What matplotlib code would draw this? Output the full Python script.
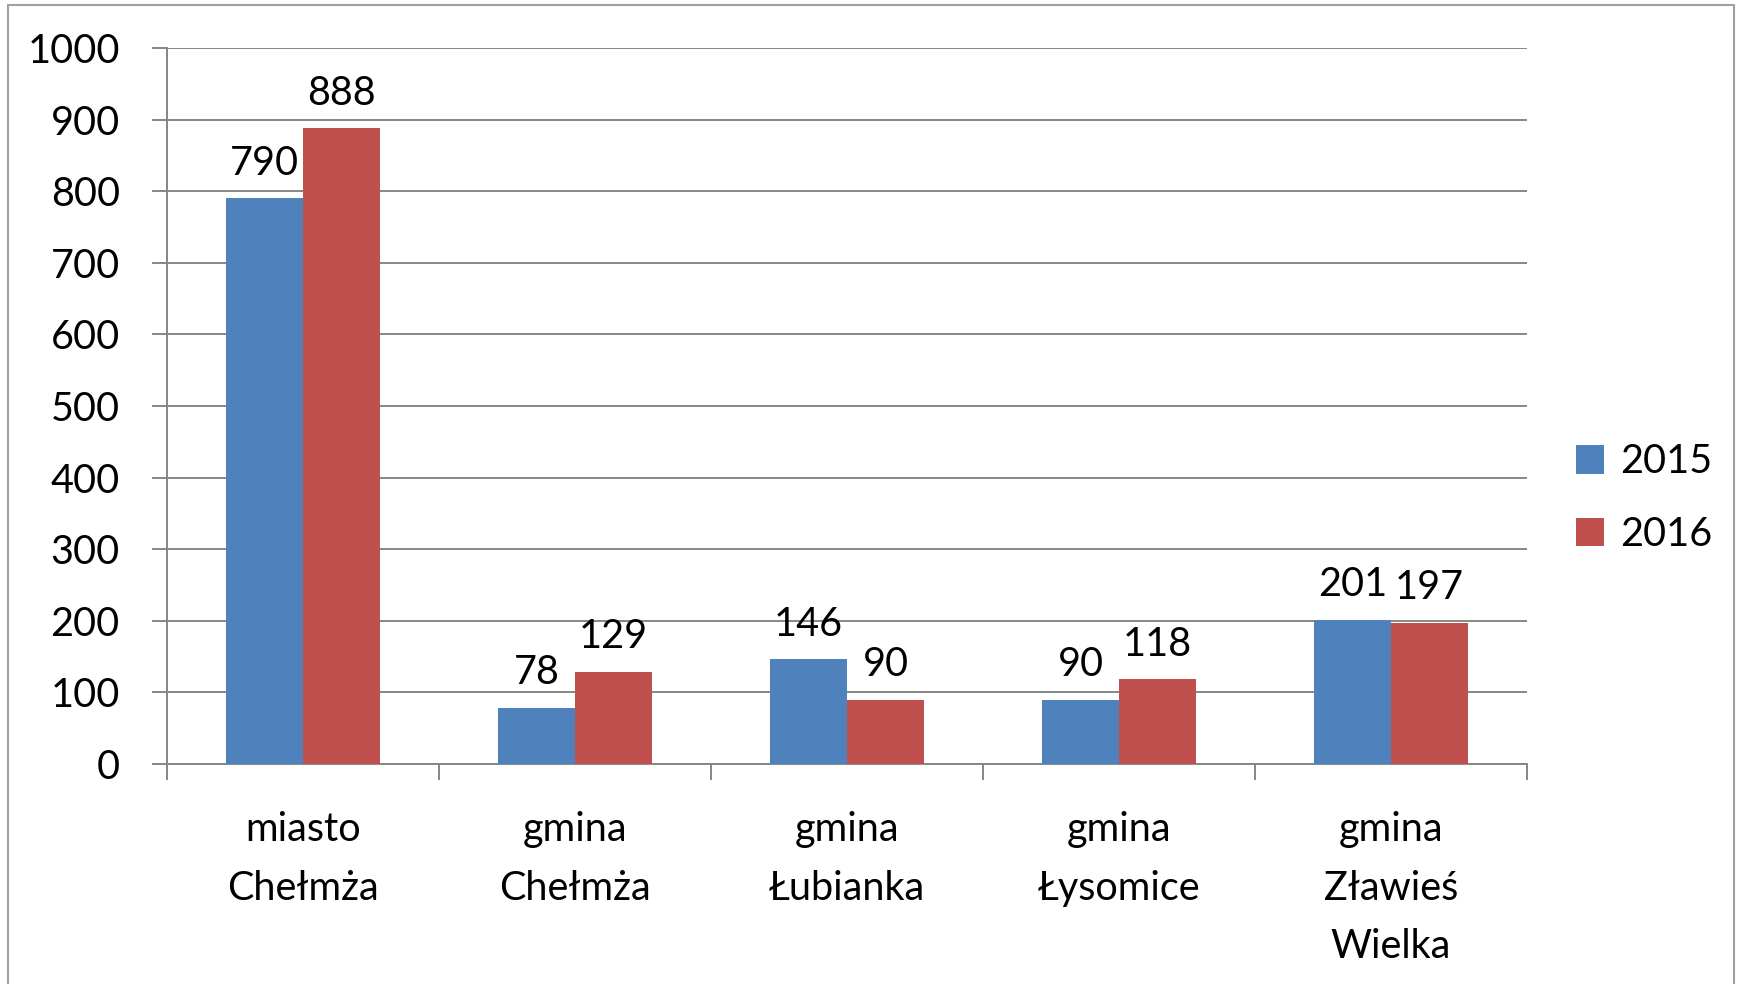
import matplotlib.pyplot as plt
import matplotlib.patches as mpatches
import numpy as np

plt.rcParams['font.family'] = ['Lato', 'DejaVu Sans']

categories = ['miasto\nChełmża', 'gmina\nChełmża', 'gmina\nŁubianka', 'gmina\nŁysomice', 'gmina\nZławieś\nWielka']
years = ['2015', '2016']
values_2015 = [790, 78, 146, 90, 201]
values_2016 = [888, 129, 90, 118, 197]
colors = ['#4F81BD', '#C0504D']
yticks = list(range(0, 1001, 100))

fs = 28.5
grid_col = '#868686'

fig = plt.figure(figsize=(17.42, 9.84), dpi=100)
ax = fig.add_axes([0.0959, 0.2236, 0.8766 - 0.0959, 0.9512 - 0.2236])

x = np.arange(len(categories))
w = 0.283
bars1 = ax.bar(x - w / 2, values_2015, w, color=colors[0], label=years[0], zorder=3)
bars2 = ax.bar(x + w / 2, values_2016, w, color=colors[1], label=years[1], zorder=3)

for bars in (bars1, bars2):
    for b in bars:
        ax.annotate(f'{int(b.get_height())}', (b.get_x() + b.get_width() / 2, b.get_height()),
                    textcoords='offset points', xytext=(0, 12), ha='center', va='bottom',
                    fontsize=fs)

ax.set_xlim(-0.5, len(categories) - 0.5)
ax.set_ylim(0, 1000)
ax.set_yticks(yticks)
ax.yaxis.grid(True, color=grid_col, linewidth=1.4, zorder=0)
ax.tick_params(axis='y', length=11, width=1.4, color=grid_col, pad=23, labelsize=fs)

# category boundaries as major ticks, labels on minor ticks
ax.set_xticks(np.arange(-0.5, len(categories), 1.0))
ax.set_xticklabels([])
ax.set_xticks(x, minor=True)
ax.set_xticklabels(categories, minor=True, fontsize=fs, linespacing=1.72)
ax.tick_params(axis='x', which='major', length=11.5, width=1.4, color=grid_col)
ax.tick_params(axis='x', which='minor', length=0, pad=34)

for s in ['top', 'right']:
    ax.spines[s].set_visible(False)
for s in ['left', 'bottom']:
    ax.spines[s].set_color(grid_col)
    ax.spines[s].set_linewidth(1.4)

fig.legend(loc='center left', bbox_to_anchor=(0.884, 0.494), frameon=False, fontsize=fs,
           handlelength=0.73, handleheight=0.73, handletextpad=0.4, labelspacing=0.9)

border = mpatches.Rectangle((0.0046, -0.05), 0.9908, 0.9949 + 0.05, transform=fig.transFigure,
                            fill=False, edgecolor='#A0A0A0', linewidth=1.5, clip_on=False)
fig.patches.append(border)

fig.savefig('out.png', dpi=100)
